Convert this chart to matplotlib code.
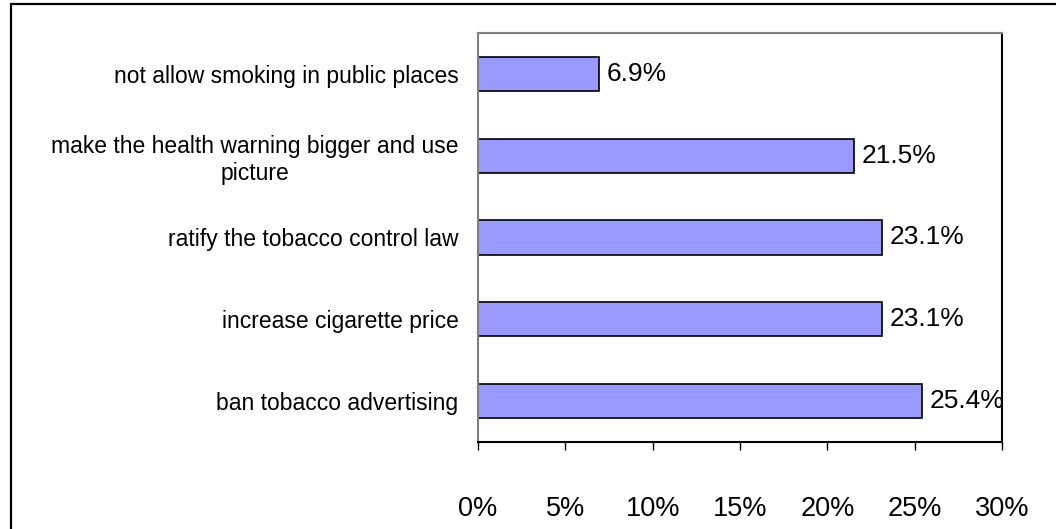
import matplotlib
matplotlib.use("Agg")
import matplotlib.pyplot as plt
from matplotlib.patches import Rectangle
from matplotlib.ticker import FuncFormatter

plt.rcParams['font.family'] = ['Liberation Sans', 'DejaVu Sans']

# survey answers, bottom to top
measures = [
    "ban tobacco advertising",
    "increase cigarette price",
    "ratify the tobacco control law",
    "make the health warning bigger and use\npicture",
    "not allow smoking in public places",
]
shares = [25.4, 23.1, 23.1, 21.5, 6.9]
xticks = [0, 5, 10, 15, 20, 25, 30]

fig = plt.figure(figsize=(10.56, 5.29), dpi=100)
ax = fig.add_axes([0.4527, 0.1645, 0.4962, 0.7731])

ypos = range(len(measures))
ax.barh(ypos, shares, height=0.42, color="#9999FF", edgecolor="black", linewidth=1.2)

for y, v in zip(ypos, shares):
    ax.text(v + 0.45, y, f"{v:.1f}%", va="center", ha="left", fontsize=19)

ax.set_xlim(0, 30)
ax.set_ylim(-0.5, len(measures) - 0.5)
ax.set_xticks(xticks)
ax.xaxis.set_major_formatter(FuncFormatter(lambda v, p: f"{v:.0f}%"))
ax.tick_params(axis="x", direction="out", length=6, width=1, labelsize=19.5, pad=33)

ax.set_yticks(list(ypos))
ax.set_yticklabels(measures, fontsize=16.5, multialignment="center", linespacing=1.2)
ax.tick_params(axis="y", length=0, pad=14)

ax.spines["top"].set_color("#808080")
ax.spines["left"].set_color("#808080")
ax.spines["right"].set_color("black")
ax.spines["bottom"].set_color("black")
for s in ax.spines.values():
    s.set_linewidth(1.5)

# chart frame
fig.patches.append(Rectangle((11 / 1056, -0.1), 1.2, 1.1 - 4 / 529,
                             transform=fig.transFigure, fill=False,
                             edgecolor="black", linewidth=1.6))

fig.savefig("out.png", dpi=100)
